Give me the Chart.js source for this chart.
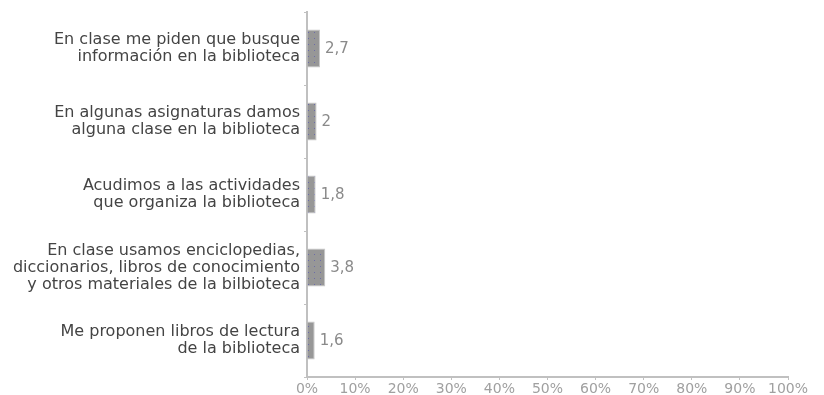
<!DOCTYPE html>
<html lang="es">
<head>
  <meta charset="UTF-8">
  <title>Biblioteca</title>
  <script src="https://cdn.jsdelivr.net/npm/chart.js"></script>
  <style>
    body { margin: 0; background: #fff; }
    #wrap { width: 824px; height: 395px; }
  </style>
</head>
<body>
  <div id="wrap"><canvas id="chart"></canvas></div>
  <script>
    const categories = [
      ['En clase me piden que busque', 'información en la biblioteca'],
      ['En algunas asignaturas damos', 'alguna clase en la biblioteca'],
      ['Acudimos a las actividades', 'que organiza la biblioteca'],
      ['En clase usamos enciclopedias,', 'diccionarios, libros de conocimiento', 'y otros materiales de la bilbioteca'],
      ['Me proponen libros de lectura', 'de la biblioteca']
    ];
    const values = [2.7, 2, 1.8, 3.8, 1.6];
    const valueLabels = ['2,7', '2', '1,8', '3,8', '1,6'];

    const FONT = '"DejaVu Sans", Verdana, sans-serif';

    // trama punteada de las barras
    const pc = document.createElement('canvas');
    pc.width = 6; pc.height = 6;
    const pctx = pc.getContext('2d');
    pctx.fillStyle = '#979797';
    pctx.fillRect(0, 0, 6, 6);
    pctx.fillStyle = '#6c6ca8';
    pctx.fillRect(2, 2, 1, 1);
    const pattern = pctx.createPattern(pc, 'repeat');

    const valueLabelPlugin = {
      id: 'valueLabels',
      afterDatasetsDraw(chart) {
        const ctx = chart.ctx;
        const meta = chart.getDatasetMeta(0);
        ctx.save();
        ctx.font = '15px ' + FONT;
        ctx.fillStyle = '#8a8a8a';
        ctx.textAlign = 'left';
        ctx.textBaseline = 'middle';
        meta.data.forEach((bar, i) => {
          ctx.fillText(valueLabels[i], bar.x + 5, bar.y + 1);
        });
        ctx.restore();
      }
    };

    new Chart(document.getElementById('chart'), {
      type: 'bar',
      data: {
        labels: categories,
        datasets: [{
          data: values,
          backgroundColor: pattern,
          borderColor: '#c8c8c8',
          borderWidth: 1,
          borderSkipped: 'left',
          barPercentage: 0.52,
          categoryPercentage: 1
        }]
      },
      options: {
        indexAxis: 'y',
        responsive: true,
        maintainAspectRatio: false,
        animation: false,
        layout: { padding: { top: 12, right: 36, left: 0, bottom: 0 } },
        plugins: {
          legend: { display: false },
          tooltip: { enabled: false }
        },
        scales: {
          x: {
            min: 0,
            max: 100,
            afterFit(scale) { scale.height = 18; },
            border: { color: '#c0c0c0', width: 2 },
            grid: { display: true, drawOnChartArea: false, tickLength: 3, color: '#c0c0c0' },
            ticks: {
              stepSize: 10,
              padding: 1,
              maxRotation: 0,
              color: '#a0a0a0',
              font: { family: FONT, size: 14 },
              callback: v => v + '%'
            }
          },
          y: {
            afterFit(scale) {
              scale.width = 307;
              scale.paddingTop = 0;
              scale.paddingBottom = 0;
            },
            border: { color: '#c0c0c0', width: 2 },
            grid: { display: true, drawOnChartArea: false, offset: true, tickLength: 3, color: '#c0c0c0' },
            ticks: {
              padding: 4,
              color: '#444',
              font: { family: FONT, size: 16, lineHeight: 1.07 }
            }
          }
        }
      },
      plugins: [valueLabelPlugin]
    });
  </script>
</body>
</html>
